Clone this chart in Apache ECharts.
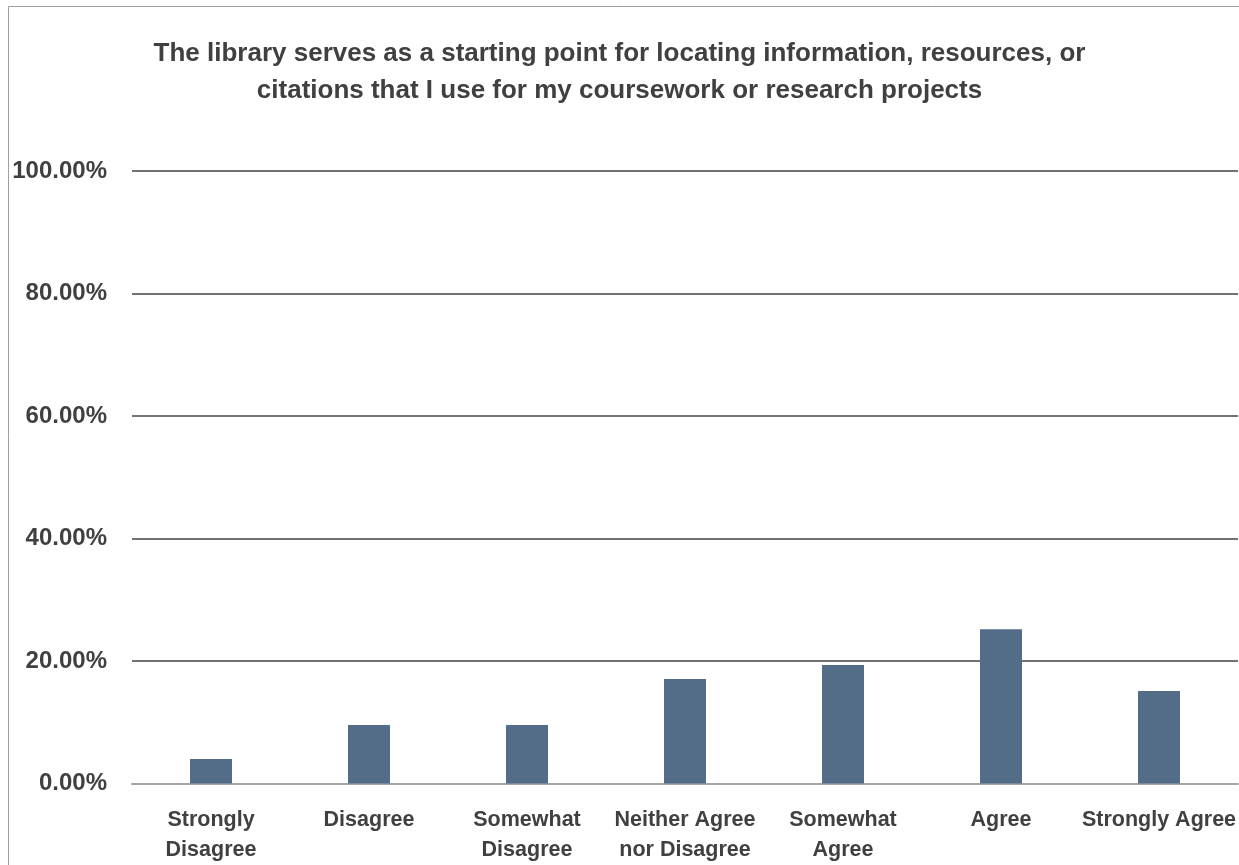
<!DOCTYPE html>
<html>
<head>
<meta charset="utf-8">
<script src="https://cdn.jsdelivr.net/npm/echarts@6/dist/echarts.min.js"></script>
<style>
  html, body { margin: 0; padding: 0; background: #fff; }
  #main { width: 1239px; height: 865px; }
</style>
</head>
<body>
<div id="main"></div>
<script>
var categories = ['Strongly\nDisagree', 'Disagree', 'Somewhat\nDisagree', 'Neither Agree\nnor Disagree', 'Somewhat\nAgree', 'Agree', 'Strongly Agree'];
var values = [4.0, 9.55, 9.55, 17.05, 19.35, 25.2, 15.1];
var yTicks = [0, 20, 40, 60, 80, 100];

var chartDom = document.getElementById('main');
var myChart = echarts.init(chartDom);
var font = '"Liberation Sans", Arial, sans-serif';
var option;

option = {
  animation: false,
  title: {
    text: 'The library serves as a starting point for locating information, resources, or\ncitations that I use for my coursework or research projects',
    left: 'center',
    top: 30,
    textStyle: {
      fontFamily: font,
      fontSize: 26,
      fontWeight: 'bold',
      color: '#404040',
      lineHeight: 37
    }
  },
  graphic: [{
    type: 'polyline',
    shape: { points: [[8.5, 865], [8.5, 6.5], [1239, 6.5]] },
    style: { stroke: '#a0a0a0', lineWidth: 1, fill: null }
  }],
  grid: { left: 132, right: 1, top: 171, bottom: 81.5, outerBoundsMode: 'none' },
  xAxis: {
    type: 'category',
    data: categories,
    axisTick: { show: false },
    axisLine: { lineStyle: { color: '#a6a6a6', width: 2 } },
    axisLabel: {
      color: '#404040',
      fontFamily: font,
      fontSize: 21.5,
      fontWeight: 'bold',
      lineHeight: 30,
      margin: 22,
      interval: 0
    }
  },
  yAxis: {
    type: 'value',
    min: yTicks[0],
    max: yTicks[yTicks.length - 1],
    interval: 20,
    axisLine: { show: false },
    axisTick: { show: false },
    splitLine: { lineStyle: { color: '#767171', width: 2 } },
    axisLabel: {
      color: '#404040',
      fontFamily: font,
      fontSize: 24,
      fontWeight: 'bold',
      margin: 25,
      formatter: function (v) { return v.toFixed(2) + '%'; }
    }
  },
  series: [{
    type: 'bar',
    data: values,
    barWidth: 42,
    itemStyle: { color: '#536c88' }
  }]
};

option && myChart.setOption(option);
</script>
</body>
</html>
